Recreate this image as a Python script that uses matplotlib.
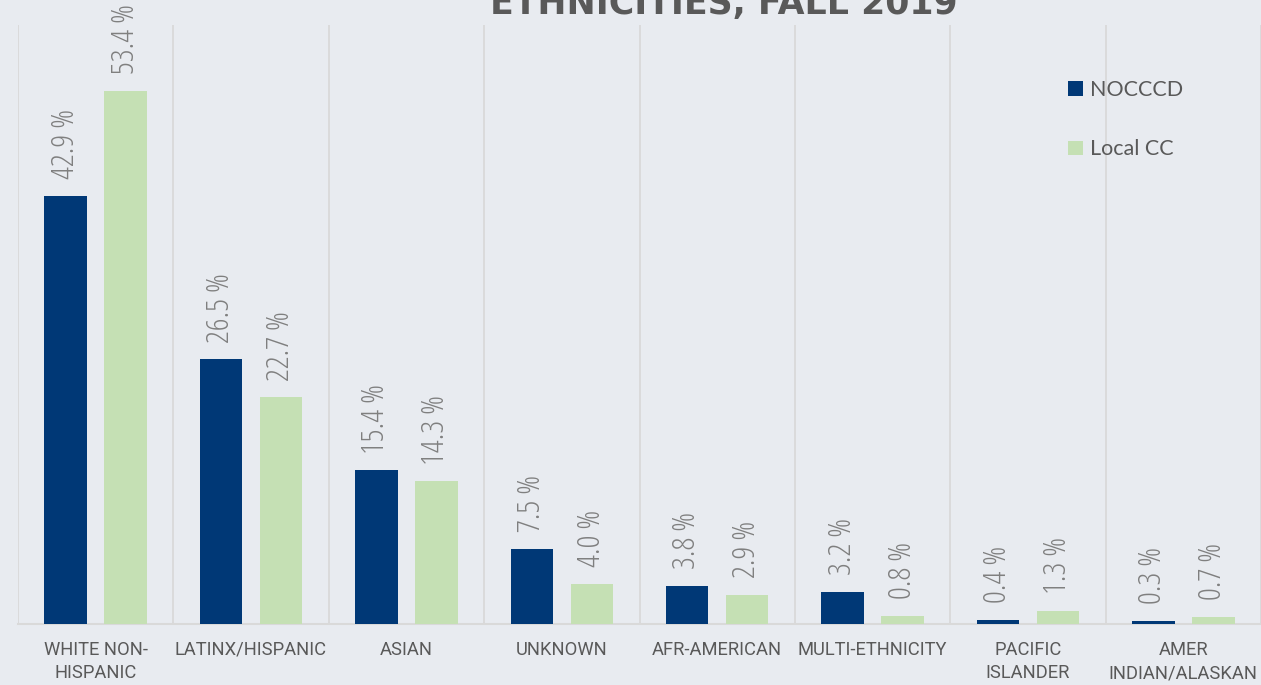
import numpy as np
import matplotlib.pyplot as plt

categories = ["WHITE NON-\nHISPANIC", "LATINX/HISPANIC", "ASIAN", "UNKNOWN",
              "AFR-AMERICAN", "MULTI-ETHNICITY", "PACIFIC\nISLANDER", "AMER\nINDIAN/ALASKAN"]
nocccd = [42.9, 26.5, 15.4, 7.5, 3.8, 3.2, 0.4, 0.3]
local_cc = [53.4, 22.7, 14.3, 4.0, 2.9, 0.8, 1.3, 0.7]

navy = "#003876"
green = "#C5E0B4"
bg = "#E8EBF0"
grey_txt = "#595959"
cond = dict(family="Open Sans", fontstretch="condensed", fontweight=300)

W, H = 1261, 685
fig = plt.figure(figsize=(W / 100, H / 100), dpi=100, facecolor=bg)
ax = fig.add_axes([18 / W, (H - 624) / H, 1243 / W, 599 / H], facecolor=bg)

x = np.arange(len(categories))
off = 0.193
bw = 0.274
b1 = ax.bar(x - off, nocccd, bw, color=navy, label="NOCCCD", zorder=3)
b2 = ax.bar(x + off, local_cc, bw, color=green, label="Local CC", zorder=3)

for bars, vals in ((b1, nocccd), (b2, local_cc)):
    for r, v in zip(bars, vals):
        ax.annotate(f"{v:.1f} %", (r.get_x() + r.get_width() / 2, v),
                    xytext=(0, 12), textcoords="offset points",
                    rotation=90, ha="center", va="bottom",
                    fontsize=23, color="#7F7F7F", **cond)

ax.set_xlim(-0.5, len(categories) - 0.5)
ax.set_ylim(0, 60)
ax.set_yticks([])
ax.set_xticks(x)
ax.set_xticklabels(categories, fontsize=13.2, color=grey_txt, linespacing=1.4,
                   family="Roboto")
ax.tick_params(axis="x", length=0, pad=12)

# separators between categories
for s in np.arange(-0.5, len(categories), 1.0):
    ax.axvline(s, color="#D9D9D9", lw=1.3, zorder=1)
for sp in ("top", "right", "left"):
    ax.spines[sp].set_visible(False)
ax.spines["bottom"].set_color("#D9D9D9")
ax.spines["bottom"].set_linewidth(1.5)

ax.legend(loc="upper left", bbox_to_anchor=(1031 / 1243, 0.94),
          frameon=False, prop=dict(family="Lato", size=15.5), labelcolor=grey_txt,
          handlelength=0.68, handleheight=0.68, handletextpad=0.33,
          labelspacing=1.82)

fig.text(724 / W, (H - 14) / H, "ETHNICITIES, FALL 2019",
         ha="center", va="baseline", fontsize=25, fontweight="bold",
         family="DejaVu Sans", color=grey_txt)

fig.savefig("out.png", dpi=100, facecolor=bg)
